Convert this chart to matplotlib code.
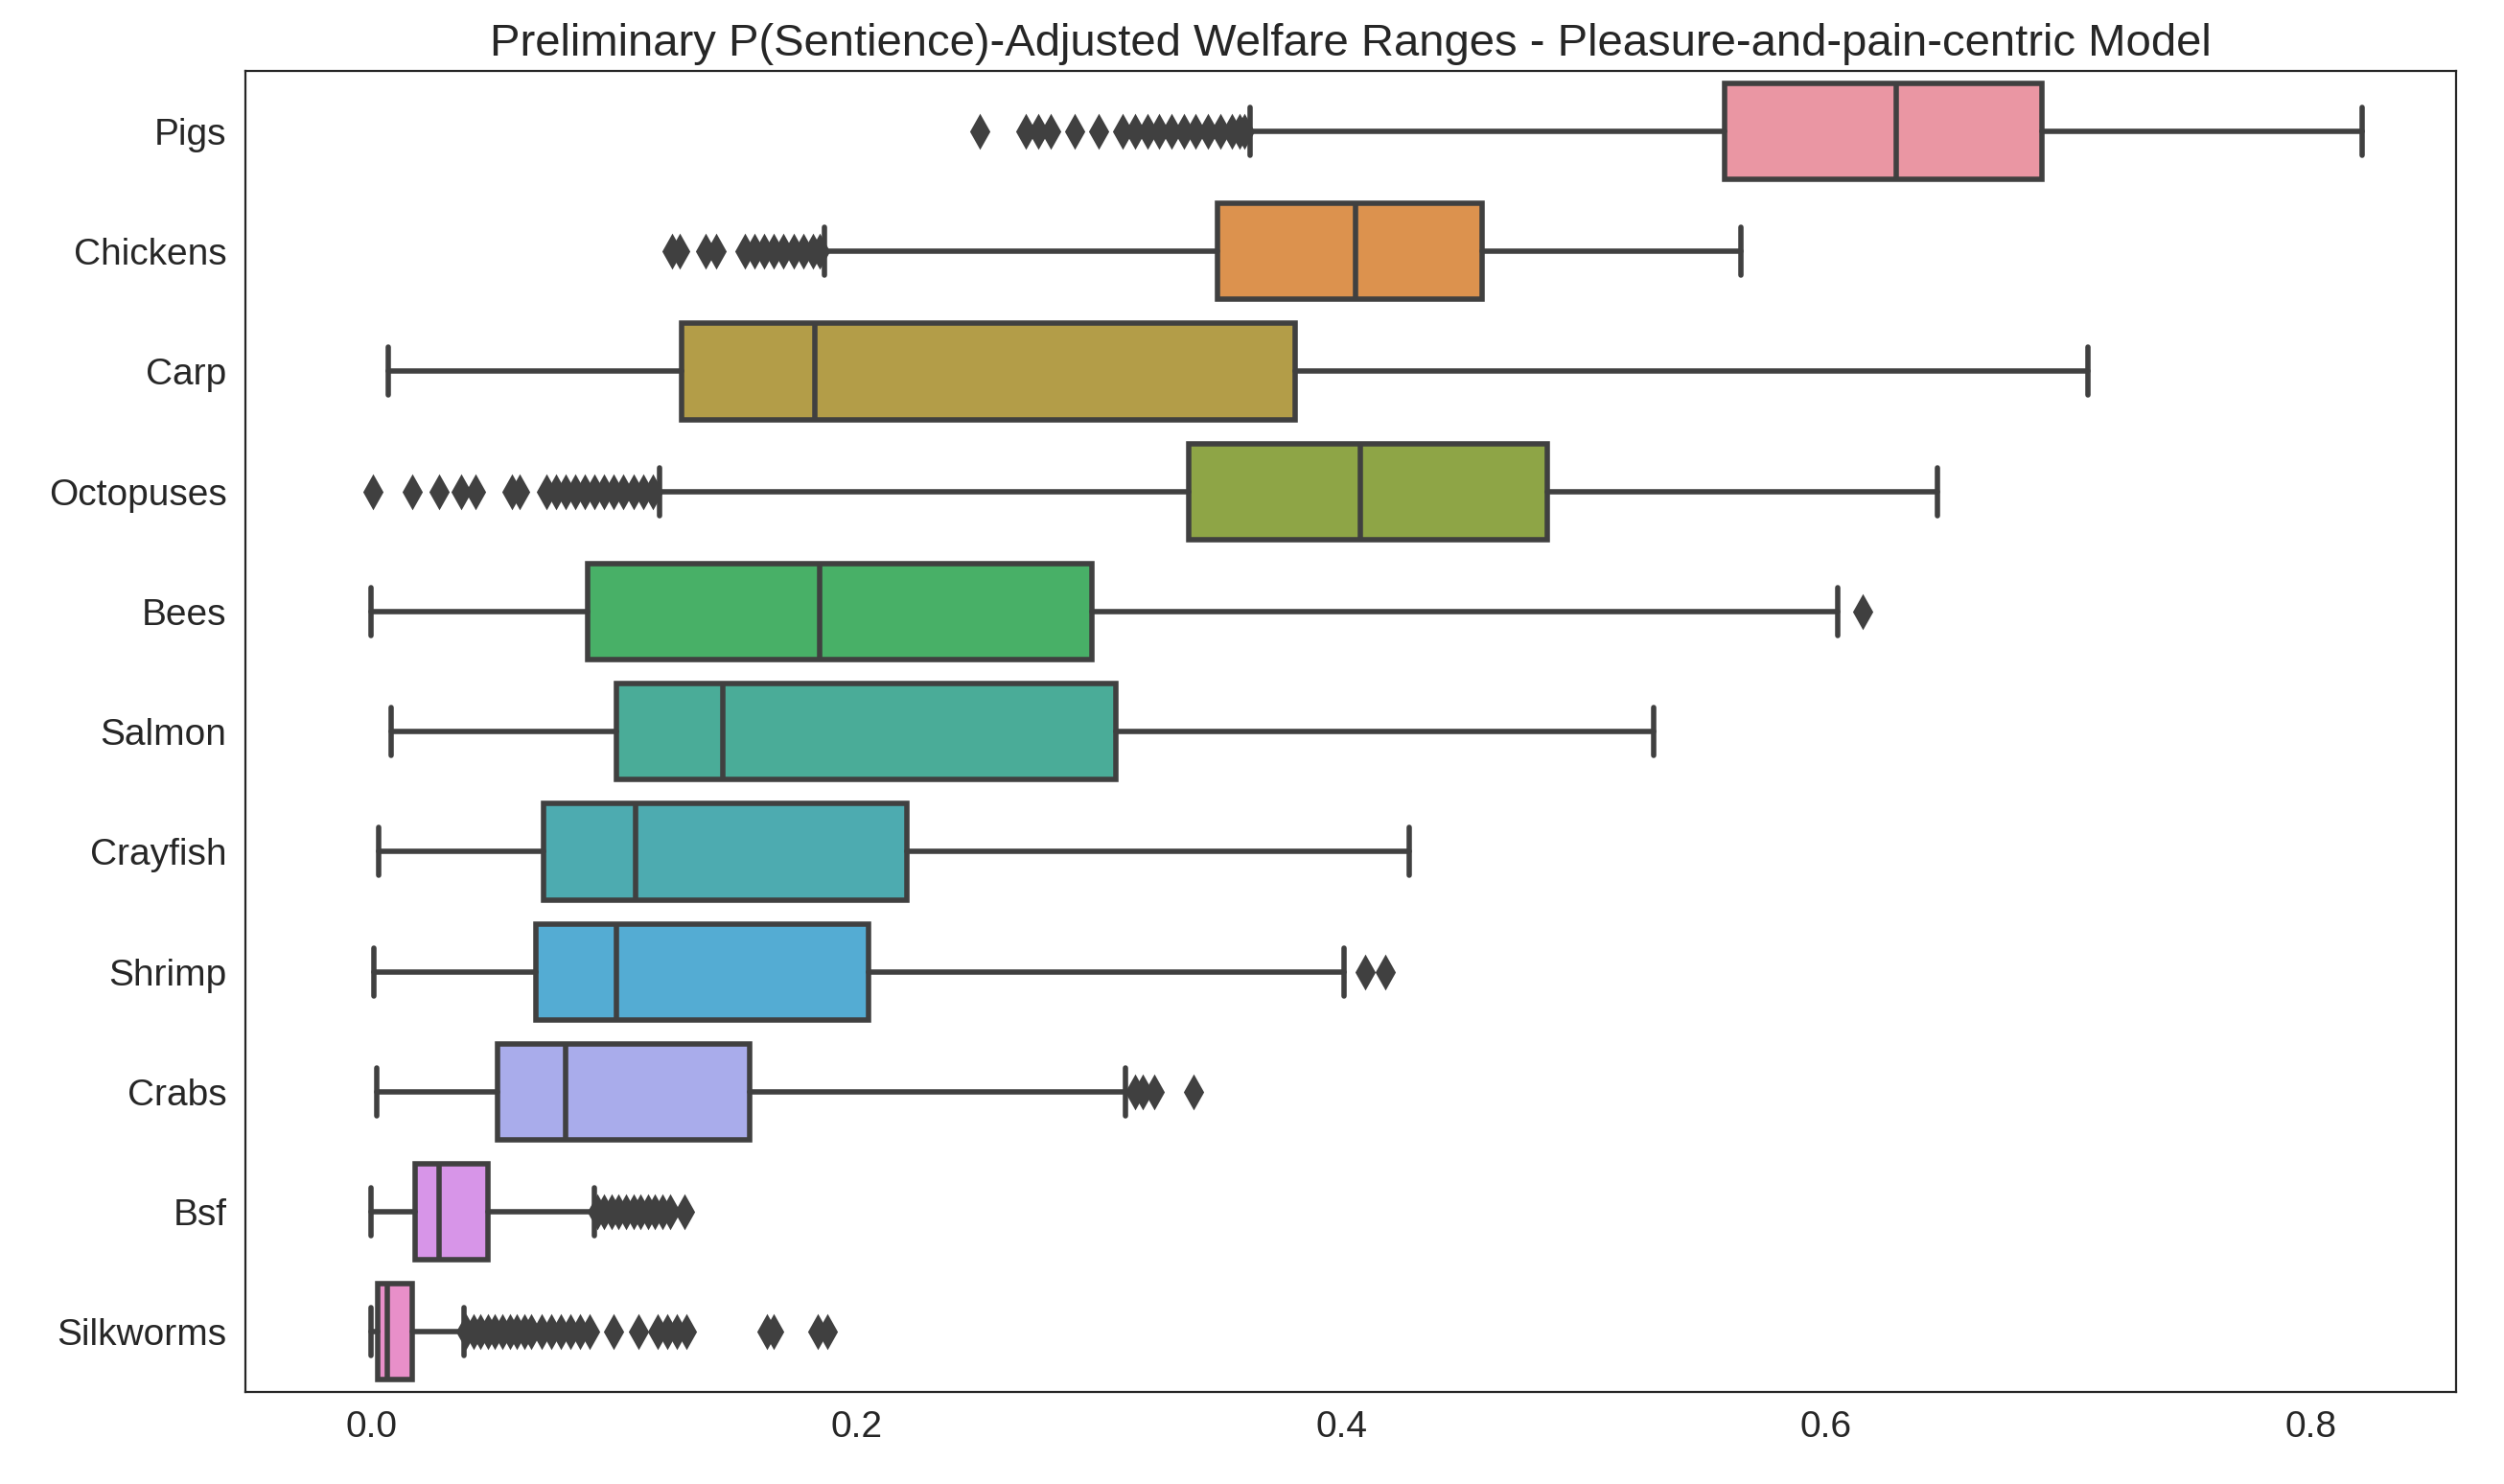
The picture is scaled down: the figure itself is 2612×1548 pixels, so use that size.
import matplotlib
matplotlib.use("Agg")
import matplotlib.pyplot as plt
import seaborn as sns
import numpy as np

sns.set_style("white")
plt.rcParams['font.family'] = ['Arial', 'Liberation Sans', 'DejaVu Sans']

species = ["Pigs", "Chickens", "Carp", "Octopuses", "Bees", "Salmon", "Crayfish",
           "Shrimp", "Crabs", "Bsf", "Silkworms"]
whislo = [0.3625, 0.187, 0.007, 0.119, 0.000, 0.008, 0.003, 0.001, 0.002, 0.000, 0.000]
q1     = [0.558, 0.349, 0.128, 0.337, 0.089, 0.101, 0.071, 0.068, 0.052, 0.018, 0.0026]
med    = [0.629, 0.406, 0.183, 0.408, 0.185, 0.145, 0.109, 0.101, 0.080, 0.028, 0.0065]
q3     = [0.689, 0.458, 0.381, 0.485, 0.297, 0.307, 0.221, 0.205, 0.156, 0.048, 0.017]
whishi = [0.821, 0.565, 0.708, 0.646, 0.605, 0.529, 0.428, 0.401, 0.311, 0.092, 0.038]
fliers = [
    [0.251, 0.270, 0.275, 0.280, 0.290, 0.300, 0.310, 0.315, 0.320, 0.325, 0.330,
     0.335, 0.340, 0.345, 0.350, 0.355, 0.358, 0.360],
    [0.124, 0.127, 0.138, 0.142, 0.154, 0.158, 0.162, 0.166, 0.170, 0.174, 0.178, 0.182, 0.185],
    [],
    [0.0006, 0.017, 0.028, 0.037, 0.043, 0.058, 0.061, 0.072, 0.076, 0.080, 0.084,
     0.088, 0.092, 0.096, 0.100, 0.104, 0.108, 0.112, 0.116],
    [0.615],
    [],
    [],
    [0.410, 0.418],
    [0.315, 0.318, 0.323, 0.339],
    [0.093, 0.096, 0.099, 0.102, 0.105, 0.108, 0.111, 0.114, 0.117, 0.120, 0.123, 0.129],
    [0.039, 0.042, 0.045, 0.048, 0.051, 0.054, 0.057, 0.060, 0.063, 0.066, 0.070,
     0.074, 0.078, 0.082, 0.086, 0.090, 0.100, 0.110, 0.118, 0.122, 0.126, 0.130,
     0.163, 0.166, 0.184, 0.188],
]

stats = [dict(label=s, whislo=a, q1=b, med=c, q3=d, whishi=e, fliers=f)
         for s, a, b, c, d, e, f in zip(species, whislo, q1, med, q3, whishi, fliers)]

fig, ax = plt.subplots(figsize=(13.06, 7.74), dpi=200)
gray = "#404040"
lw = 2.0
bp = ax.bxp(stats, positions=np.arange(len(species)), widths=0.8, vert=False,
            patch_artist=True,
            boxprops=dict(edgecolor=gray, linewidth=lw),
            medianprops=dict(color=gray, linewidth=lw),
            whiskerprops=dict(color=gray, linewidth=lw),
            capprops=dict(color=gray, linewidth=lw),
            flierprops=dict(marker='d', markerfacecolor=gray, markeredgecolor=gray,
                            markersize=8, linestyle='none'))
pal = sns.husl_palette(len(species), l=0.7)
for patch, col in zip(bp['boxes'], pal):
    patch.set_facecolor(sns.desaturate(col, 0.75))
ax.set_ylim(len(species) - 0.5, -0.5)
ax.set_xlim(-0.052, 0.86)
ax.set_xticks([0.0, 0.2, 0.4, 0.6, 0.8])
ax.set_xticklabels(["0.0", "0.2", "0.4", "0.6", "0.8"])
ax.tick_params(labelsize=14)
ax.set_title("Preliminary P(Sentience)-Adjusted Welfare Ranges - Pleasure-and-pain-centric Model",
             fontsize=17)
for s in ax.spines.values():
    s.set_color("#262626")
fig.subplots_adjust(left=0.098, right=0.981, top=0.952, bottom=0.062)
fig.savefig("out.png", dpi=200)
